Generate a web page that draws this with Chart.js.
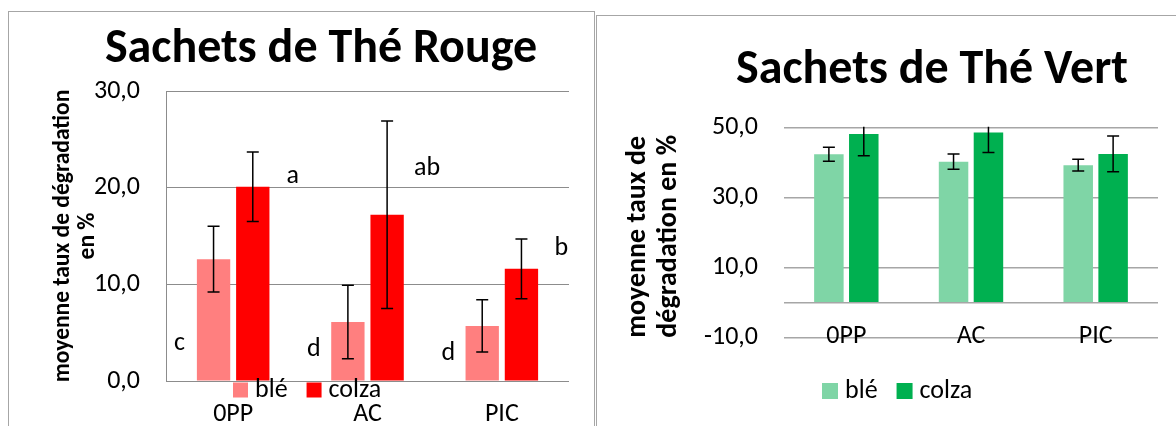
<!DOCTYPE html>
<html>
<head>
<meta charset="utf-8">
<script src="https://cdn.jsdelivr.net/npm/chart.js@4.4.1/dist/chart.umd.min.js"></script>
<style>
  html, body { margin: 0; padding: 0; background: #fff; width: 1176px; height: 426px; overflow: hidden; }
  .panel { position: absolute; border: 1px solid #a6a6a6; box-sizing: border-box; background: #fff; }
  #pRouge { left: 8px; top: 11px; width: 587px; height: 440px; }
  #pVert { left: 596px; top: 15px; width: 620px; height: 440px; }
  canvas { position: absolute; }
  #rouge { left: 9px; top: 12px; }
  #vert { left: 597px; top: 16px; }
</style>
</head>
<body>
<div class="panel" id="pRouge"></div>
<div class="panel" id="pVert"></div>
<canvas id="rouge" width="585" height="414"></canvas>
<canvas id="vert" width="579" height="410"></canvas>
<script>
  // --- Données ---
  const categories = ["0PP", "AC", "PIC"];
  const seriesNames = ["blé", "colza"];

  // Thé Rouge
  const rougeBle = [12.6, 6.1, 5.7];
  const rougeColza = [20.1, 17.2, 11.6];
  const rougeBleErr = [3.4, 3.8, 2.7];
  const rougeColzaErr = [3.6, 9.7, 3.1];
  const rougeBleLetters = ["c", "d", "d"];
  const rougeColzaLetters = ["a", "ab", "b"];
  const rougeBleLetterAt = [3.2, 2.6, 2.2];
  const rougeColzaLetterAt = [20.5, 21.3, 13.0];
  const rougeTicks = [0, 10, 20, 30];

  // Thé Vert
  const vertBle = [42.4, 40.3, 39.3];
  const vertColza = [48.2, 48.6, 42.5];
  const vertBleErr = [2.0, 2.2, 1.7];
  const vertColzaErr = [6.2, 5.7, 5.1];
  const vertTicks = [-10, 0, 10, 30, 50];

  const FONT = "Carlito, Lato, 'Open Sans', sans-serif";
  const fmt = (v) => v.toFixed(1).replace(".", ",");

  // --- Plugins ---
  const sheetTitle = {
    id: "sheetTitle",
    afterDraw(chart, args, opts) {
      const ctx = chart.ctx;
      ctx.save();
      ctx.font = `bold ${opts.size}px ${FONT}`;
      ctx.fillStyle = "#000";
      ctx.textAlign = "center";
      ctx.textBaseline = "alphabetic";
      ctx.fillText(opts.text, opts.x, opts.y);
      ctx.restore();
    }
  };

  const errorBars = {
    id: "errorBars",
    afterDatasetsDraw(chart, args, opts) {
      const ctx = chart.ctx;
      const y = chart.scales.y;
      const area = chart.chartArea;
      ctx.save();
      ctx.beginPath();
      ctx.rect(area.left, area.top - 1, area.right - area.left, area.bottom - area.top + 2);
      ctx.clip();
      ctx.strokeStyle = "#000";
      ctx.lineWidth = 1.5;
      chart.data.datasets.forEach((ds, i) => {
        chart.getDatasetMeta(i).data.forEach((bar, j) => {
          const v = ds.data[j], e = ds.errors[j];
          const top = y.getPixelForValue(v + e);
          const bot = y.getPixelForValue(v - e);
          const half = opts.cap / 2;
          ctx.beginPath();
          ctx.moveTo(bar.x, top); ctx.lineTo(bar.x, bot);
          ctx.moveTo(bar.x - half, top); ctx.lineTo(bar.x + half, top);
          ctx.moveTo(bar.x - half, bot); ctx.lineTo(bar.x + half, bot);
          ctx.stroke();
        });
      });
      ctx.restore();
    }
  };

  const letters = {
    id: "letters",
    afterDraw(chart, args, opts) {
      if (!opts.items) return;
      const ctx = chart.ctx;
      const y = chart.scales.y;
      ctx.save();
      ctx.font = `${opts.size}px ${FONT}`;
      ctx.fillStyle = "#000";
      ctx.textAlign = "center";
      ctx.textBaseline = "alphabetic";
      opts.items.forEach((it) => {
        const bars = chart.getDatasetMeta(it.dataset).data;
        it.text.forEach((t, j) => {
          ctx.fillText(t, bars[j].x + it.dx, y.getPixelForValue(it.at[j]));
        });
      });
      ctx.restore();
    }
  };

  const swatchLegend = {
    id: "swatchLegend",
    afterDraw(chart, args, opts) {
      const ctx = chart.ctx;
      ctx.save();
      ctx.font = `${opts.size}px ${FONT}`;
      ctx.textBaseline = "middle";
      ctx.textAlign = "left";
      let x = opts.x;
      chart.data.datasets.forEach((ds) => {
        ctx.fillStyle = ds.backgroundColor;
        ctx.fillRect(x, opts.y - opts.box / 2, opts.box, opts.box);
        x += opts.box + 7;
        ctx.fillStyle = "#000";
        ctx.fillText(ds.label, x, opts.y);
        x += ctx.measureText(ds.label).width + 19;
      });
      ctx.restore();
    }
  };

  function makeChart(id, cfg) {
    return new Chart(document.getElementById(id), {
      type: "bar",
      data: {
        labels: categories,
        datasets: [
          { label: seriesNames[0], data: cfg.ble, errors: cfg.bleErr, backgroundColor: cfg.colors[0],
            categoryPercentage: cfg.cp, barPercentage: cfg.bp },
          { label: seriesNames[1], data: cfg.colza, errors: cfg.colzaErr, backgroundColor: cfg.colors[1],
            categoryPercentage: cfg.cp, barPercentage: cfg.bp }
        ]
      },
      options: {
        responsive: false,
        animation: false,
        events: [],
        layout: { padding: cfg.padding },
        plugins: {
          legend: { display: false },
          title: { display: false },
          tooltip: { enabled: false },
          sheetTitle: cfg.title,
          errorBars: { cap: 12 },
          letters: { items: cfg.letters, size: 26 },
          swatchLegend: cfg.legend
        },
        scales: {
          x: {
            grid: { display: false, drawTicks: false },
            border: { display: false },
            ticks: { color: "#000", mirror: cfg.xMirror, padding: cfg.xPad,
                     font: { family: FONT, size: 26, lineHeight: 1.2 } },
            afterFit: (s) => { s.height = cfg.xHeight; }
          },
          y: {
            min: cfg.ticks[0],
            max: cfg.ticks[cfg.ticks.length - 1],
            afterBuildTicks: (s) => { s.ticks = cfg.ticks.map((v) => ({ value: v })); },
            grid: { color: cfg.gridColor, lineWidth: cfg.gridWidth, drawTicks: false },
            border: { display: cfg.axisLine, color: cfg.gridColor, width: cfg.gridWidth },
            ticks: {
              color: "#000", padding: 26, font: { family: FONT, size: 26 },
              callback: (v) => (cfg.hideZero && v === 0 ? "" : fmt(v))
            },
            title: {
              display: true, text: cfg.yTitle, color: "#000", align: cfg.yTitleAlign,
              padding: { top: cfg.yTitlePad, bottom: 0 },
              font: { family: FONT, size: cfg.yTitleSize, weight: "bold", lineHeight: cfg.yTitleLH }
            },
            afterFit: (s) => { s.width = cfg.yWidth; }
          }
        }
      },
      plugins: [sheetTitle, errorBars, letters, swatchLegend]
    });
  }

  makeChart("rouge", {
    ble: rougeBle, colza: rougeColza, bleErr: rougeBleErr, colzaErr: rougeColzaErr,
    colors: ["#FF7F7F", "#FF0000"], cp: 0.584, bp: 0.85,
    padding: { top: 79, right: 25, bottom: 0, left: 0 },
    title: { text: "Sachets de Thé Rouge", size: 48, x: 312, y: 50 },
    letters: [
      { dataset: 0, text: rougeBleLetters, at: rougeBleLetterAt, dx: -34 },
      { dataset: 1, text: rougeColzaLetters, at: rougeColzaLetterAt, dx: 40 }
    ],
    legend: { x: 224, y: 378, box: 15, size: 26 },
    ticks: rougeTicks, hideZero: false, axisLine: true,
    gridColor: "#8c8c8c", gridWidth: 1,
    xMirror: false, xPad: 18, xHeight: 45, yWidth: 157,
    yTitle: ["moyenne taux de dégradation", "en %"], yTitleAlign: "center",
    yTitleSize: 23.5, yTitleLH: 1.04, yTitlePad: 42.25
  });

  makeChart("vert", {
    ble: vertBle, colza: vertColza, bleErr: vertBleErr, colzaErr: vertColzaErr,
    colors: ["#7FD5A6", "#00B050"], cp: 0.56, bp: 0.845,
    padding: { top: 111.7, right: 18, bottom: 0, left: 0 },
    title: { text: "Sachets de Thé Vert", size: 48, x: 335, y: 67 },
    letters: null,
    legend: { x: 225, y: 375, box: 16, size: 26 },
    ticks: vertTicks, hideZero: true, axisLine: false,
    gridColor: "#a6a6a6", gridWidth: 1.5,
    xMirror: true, xPad: -14.6, xHeight: 88.3, yWidth: 187,
    yTitle: ["moyenne taux de", "dégradation en %"], yTitleAlign: "start",
    yTitleSize: 28, yTitleLH: 1.11, yTitlePad: 25.5
  });
</script>
</body>
</html>
